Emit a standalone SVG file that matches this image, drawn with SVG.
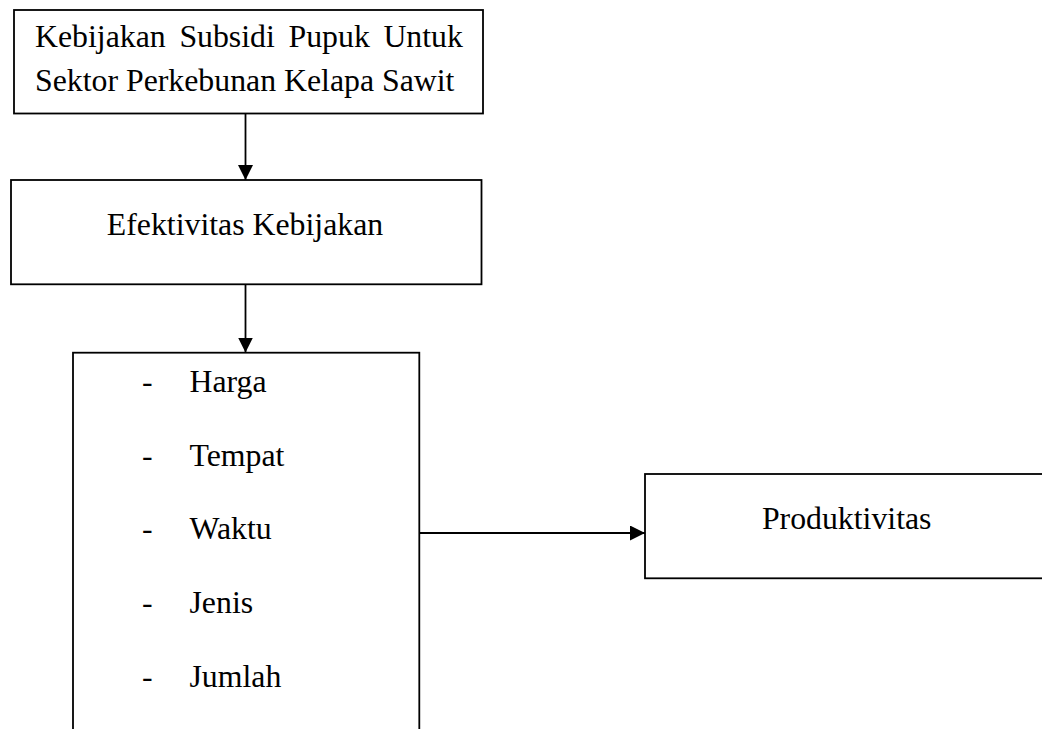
<svg xmlns="http://www.w3.org/2000/svg" width="1042" height="729" viewBox="0 0 1042 729">
  <style>
    .box { fill: #ffffff; stroke: #000000; stroke-width: 1.8; }
    .edge { fill: none; stroke: #000000; stroke-width: 1.8; }
    text { font-family: "Liberation Serif", "Times New Roman", serif; font-size: 31.8px; fill: #000000; }
  </style>
  <defs>
    <marker id="arrow" markerUnits="userSpaceOnUse" markerWidth="16" markerHeight="16" refX="15" refY="7.5" orient="auto">
      <path d="M0,0 L15,7.5 L0,15 Z" fill="#000000"/>
    </marker>
  </defs>
  <rect width="1042" height="729" fill="#ffffff"/>
  <g id="node-kebijakan">
    <rect class="box" x="14" y="10" width="469" height="103.5"/>
    <text x="35" y="46.7">Kebijakan</text>
    <text x="179.4" y="46.7">Subsidi</text>
    <text x="288.5" y="46.7">Pupuk</text>
    <text x="383.4" y="46.7">Untuk</text>
    <text x="35" y="90.7">Sektor Perkebunan Kelapa Sawit</text>
  </g>
  <g id="node-efektivitas">
    <rect class="box" x="11" y="180" width="470.5" height="104.3"/>
    <text x="245" y="235" text-anchor="middle">Efektivitas Kebijakan</text>
  </g>
  <g id="node-indikator">
    <rect class="box" x="73" y="352.7" width="346.3" height="400"/>
    <text x="142" y="391.7">-</text>
    <text x="189.5" y="391.7">Harga</text>
    <text x="142" y="466">-</text>
    <text x="189.5" y="466">Tempat</text>
    <text x="142" y="539.3">-</text>
    <text x="189.5" y="539.3">Waktu</text>
    <text x="142" y="612.7">-</text>
    <text x="189.5" y="612.7">Jenis</text>
    <text x="142" y="686.7">-</text>
    <text x="189.5" y="686.7">Jumlah</text>
  </g>
  <g id="node-produktivitas">
    <rect class="box" x="645" y="474" width="420" height="104.3"/>
    <text x="846.7" y="529.3" text-anchor="middle">Produktivitas</text>
  </g>
  <g id="connectors">
    <line class="edge" x1="245.5" y1="113.5" x2="245.5" y2="180" marker-end="url(#arrow)"/>
    <line class="edge" x1="245.5" y1="284.3" x2="245.5" y2="352.5" marker-end="url(#arrow)"/>
    <line class="edge" x1="419.3" y1="533" x2="645" y2="533" marker-end="url(#arrow)"/>
  </g>
</svg>
